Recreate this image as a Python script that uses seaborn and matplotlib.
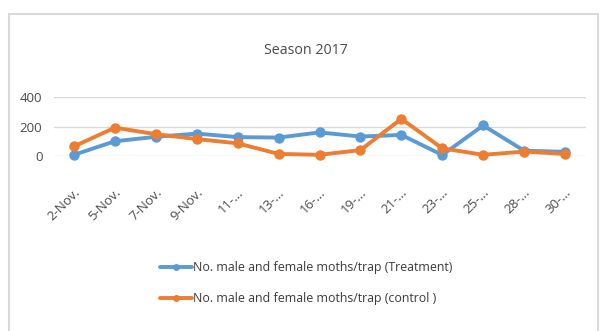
import matplotlib
matplotlib.use("Agg")
import matplotlib.pyplot as plt
import matplotlib.transforms as mtransforms
import seaborn as sns
import pandas as pd
from matplotlib.patches import Rectangle

dates = ["2-Nov.", "5-Nov.", "7-Nov.", "9-Nov.", "11-...", "13-...", "16-...",
         "19-...", "21-...", "23-...", "25-...", "28-...", "30-..."]
treatment = [8, 100, 130, 152, 128, 125, 160, 132, 143, 7, 207, 36, 28]
control = [65, 192, 148, 115, 86, 14, 8, 40, 252, 52, 8, 30, 14]
series_names = ["No. male and female moths/trap (Treatment)",
                "No. male and female moths/trap (control )"]
y_ticks = [0, 200, 400]

blue = "#5B9BD5"
orange = "#ED7D31"
text_grey = "#4a4a4a"

sns.set_theme(style="white")
plt.rcParams["font.family"] = ["Open Sans", "DejaVu Sans"]

df = pd.DataFrame({
    "pos": list(range(len(dates))) * 2,
    "value": treatment + control,
    "series": [series_names[0]] * len(dates) + [series_names[1]] * len(dates),
})

fig = plt.figure(figsize=(6.03, 3.31), dpi=100)
fig.patch.set_facecolor("white")
fig.patches.append(Rectangle((9 / 603, -0.05), 589 / 603, 1 - 14 / 331 + 0.05,
                             transform=fig.transFigure, fill=False,
                             edgecolor="#d9d9d9", linewidth=1.5, zorder=0))

ax = fig.add_axes([53.5 / 603, 1 - 156 / 331, 532 / 603, 59 / 331])
sns.lineplot(data=df, x="pos", y="value", hue="series", sort=False,
             palette=[blue, orange], marker="o", markersize=7.5,
             markeredgewidth=0, linewidth=2.8, ax=ax, legend=False)

ax.set_xlim(-0.5, len(dates) - 0.5)
ax.set_ylim(0, 400)
ax.set_yticks(y_ticks)
ax.set_yticklabels([str(v) for v in y_ticks], fontsize=9.5, color=text_grey)
ax.set_xticks(range(len(dates)))
ax.set_xticklabels(dates, rotation=45, ha="right", va="center",
                   rotation_mode="anchor", fontsize=9.5, color=text_grey)
ax.tick_params(axis="y", length=0, pad=8)
ax.tick_params(axis="x", length=0, pad=25)
shift = mtransforms.ScaledTranslation(4 / 100, 0, fig.dpi_scale_trans)
for lbl in ax.get_xticklabels():
    lbl.set_transform(lbl.get_transform() + shift)
ax.grid(axis="y", color="#d9d9d9", linewidth=1)
ax.set_axisbelow(True)
for s in ax.spines.values():
    s.set_visible(False)
ax.set_xlabel("")
ax.set_ylabel("")
ax.patch.set_alpha(0)
for line in ax.lines:
    line.set_clip_on(False)

fig.text(306 / 603, 1 - 50 / 331, "Season 2017", ha="center", va="center",
         fontsize=10.3, color=text_grey)

handles = [plt.Line2D([], [], color=c, linewidth=2.8, marker="o", markersize=5,
                      markeredgewidth=0) for c in (blue, orange)]
fig.legend(handles, series_names, loc="center", bbox_to_anchor=(306 / 603, 1 - 283 / 331),
           frameon=False, fontsize=8.9, handlelength=2.6, handletextpad=0.1,
           labelspacing=1.45, labelcolor="#3a3a3a")

fig.savefig("out.png", dpi=100, facecolor="white")
